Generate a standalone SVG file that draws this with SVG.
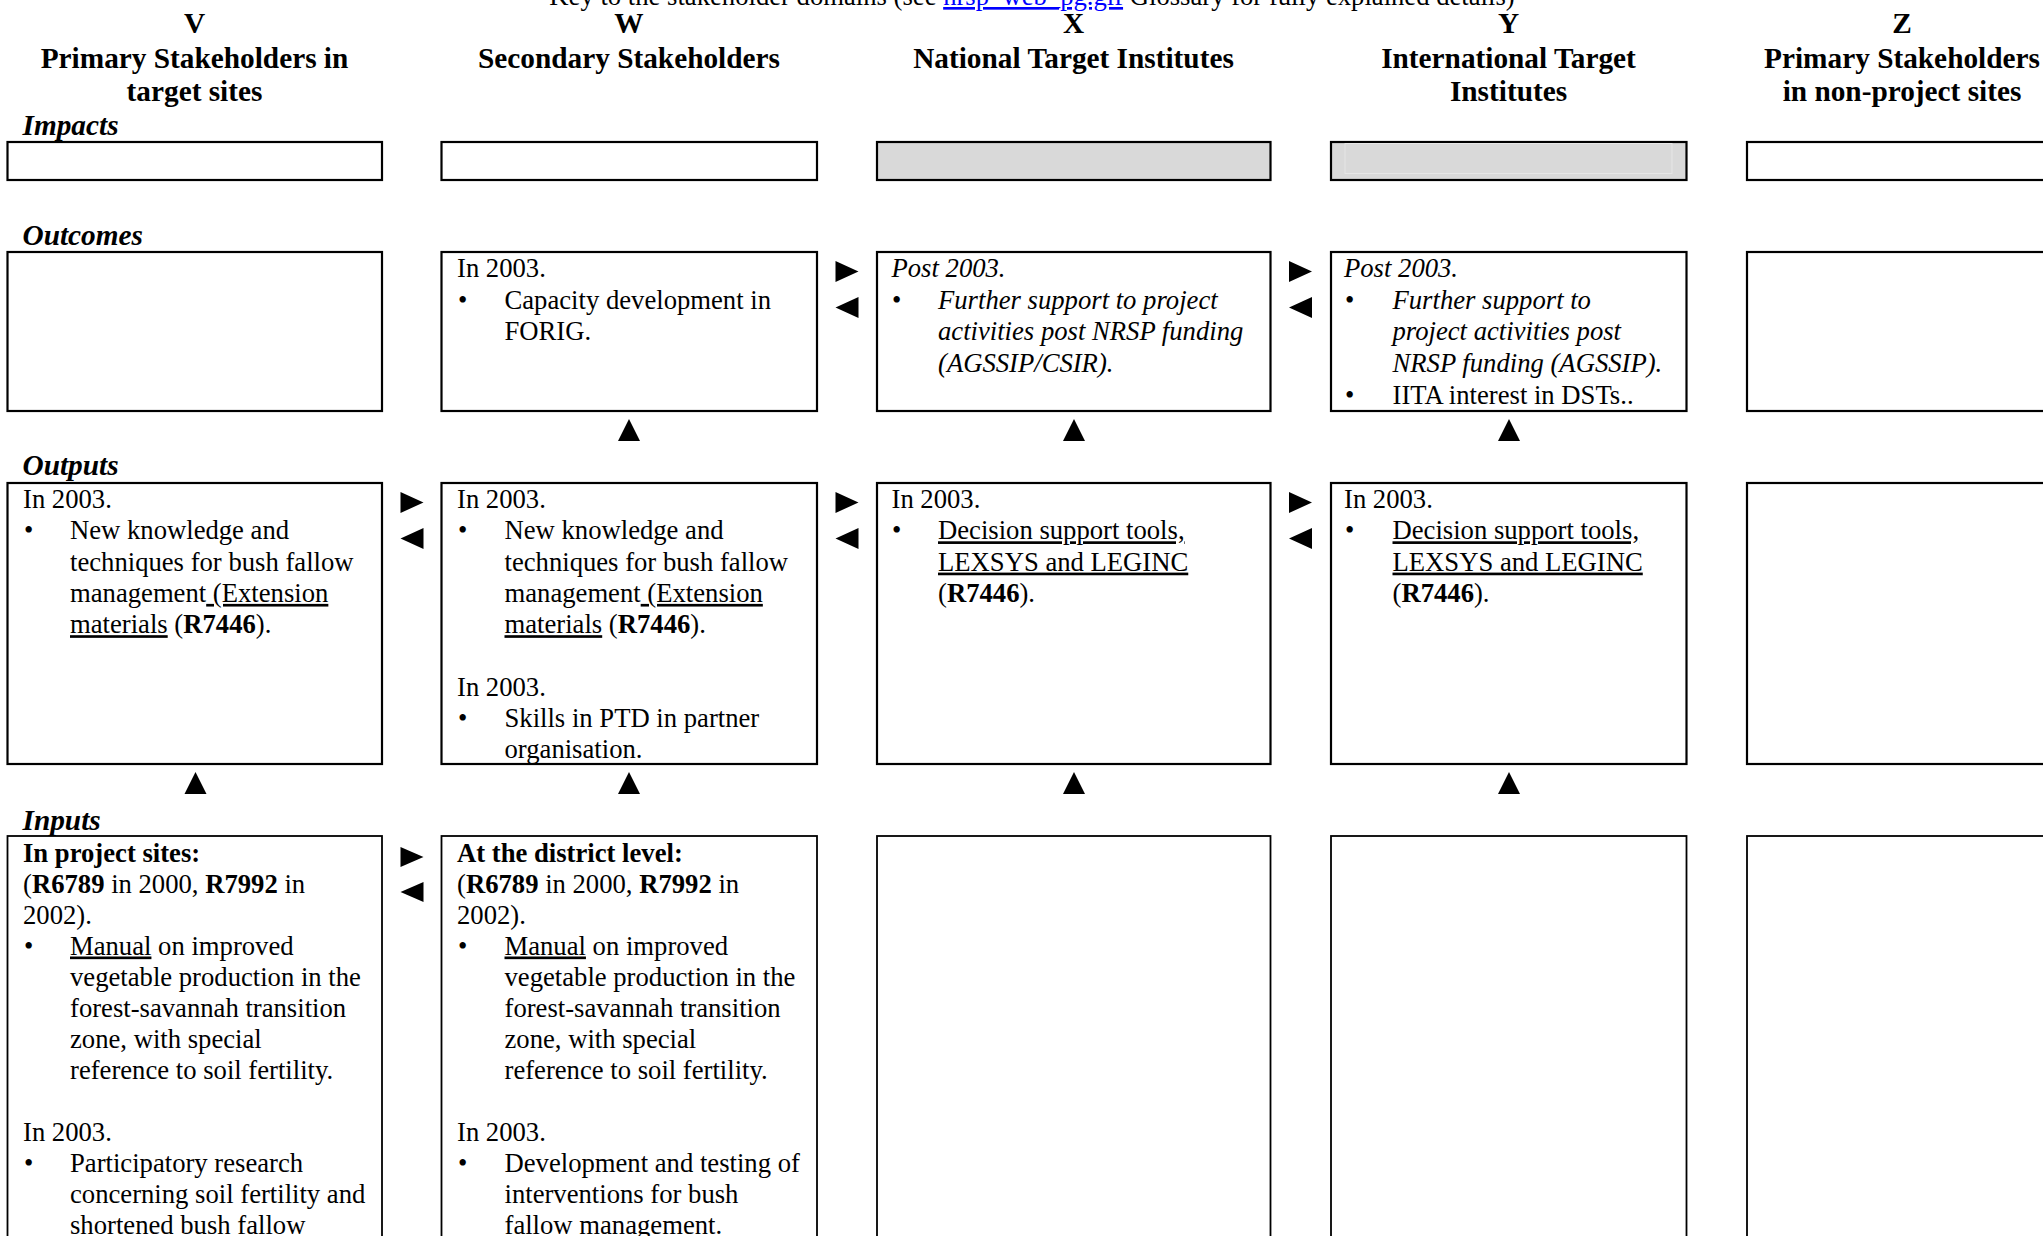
<svg xmlns="http://www.w3.org/2000/svg" width="2043" height="1236" viewBox="0 0 2043 1236">
<style>
.box{fill:#fff;stroke:#000;stroke-width:2.2}
.inp{fill:#fff;stroke:#000;stroke-width:1.8}
.grey{fill:#d9d9d9}
.hdr{font-family:"Liberation Serif","Times New Roman",serif;font-weight:bold;font-size:29.3px;text-anchor:middle;fill:#000}
.row{font-family:"Liberation Serif","Times New Roman",serif;font-weight:bold;font-style:italic;font-size:29.3px;fill:#000}
.t{font-family:"Liberation Serif","Times New Roman",serif;font-size:26.67px;fill:#000}
.b{font-weight:bold}
.i{font-style:italic}
.u{text-decoration:underline}
.arr{fill:#000}
</style>
<text class="t" x="1032" y="5" text-anchor="middle">Key to the stakeholder domains (see <tspan fill="#0000ff" class="u">nrsp_web_pg.gif</tspan> Glossary for fully explained details)</text>
<g id="headers">
<text class="hdr" x="194.5" y="33">V</text>
<text class="hdr" x="194.5" y="68">Primary Stakeholders in</text>
<text class="hdr" x="194.5" y="101">target sites</text>
<text class="hdr" x="629" y="33">W</text>
<text class="hdr" x="629" y="68">Secondary Stakeholders</text>
<text class="hdr" x="1073.5" y="33">X</text>
<text class="hdr" x="1073.5" y="68">National Target Institutes</text>
<text class="hdr" x="1508.5" y="33">Y</text>
<text class="hdr" x="1508.5" y="68">International Target</text>
<text class="hdr" x="1508.5" y="101">Institutes</text>
<text class="hdr" x="1902" y="33">Z</text>
<text class="hdr" x="1902" y="68">Primary Stakeholders</text>
<text class="hdr" x="1902" y="101">in non-project sites</text>
</g>
<g id="rowlabels">
<text class="row" x="22.5" y="134.5">Impacts</text>
<text class="row" x="22.5" y="245">Outcomes</text>
<text class="row" x="22.5" y="475">Outputs</text>
<text class="row" x="22.5" y="830">Inputs</text>
</g>
<g id="impacts">
<g id="impact-V"><rect class="box" x="7.5" y="142" width="374.5" height="38"/></g>
<g id="impact-W"><rect class="box" x="441.5" y="142" width="375.5" height="38"/></g>
<g id="impact-X"><rect class="box grey" x="877" y="142" width="393.5" height="38"/></g>
<g id="impact-Y"><rect class="box grey" x="1331" y="142" width="355.5" height="38"/><rect x="1345" y="143.5" width="327" height="30" fill="none" stroke="#e6e6e6" stroke-width="1"/></g>
<g id="impact-Z"><rect class="box" x="1747" y="142" width="320" height="38"/></g>
</g>
<g id="outcomes">
<g id="outcome-V"><rect class="box" x="7.5" y="252" width="374.5" height="159"/></g>
<g id="outcome-W"><rect class="box" x="441.5" y="252" width="375.5" height="159"/>
<text class="t" x="457" y="277">In 2003.</text>
<text class="t" x="458" y="308.7">•</text>
<text class="t" x="504.5" y="308.7">Capacity development in</text>
<text class="t" x="504.5" y="340.4">FORIG.</text>
</g>
<g id="outcome-X"><rect class="box" x="877" y="252" width="393.5" height="159"/>
<text class="t i" x="891.5" y="277">Post 2003.</text>
<text class="t" x="892" y="308.7">•</text>
<text class="t i" x="938" y="308.7">Further support to project</text>
<text class="t i" x="938" y="340.4">activities post NRSP funding</text>
<text class="t i" x="938" y="372.1">(AGSSIP/CSIR).</text>
</g>
<g id="outcome-Y"><rect class="box" x="1331" y="252" width="355.5" height="159"/>
<text class="t i" x="1344" y="277">Post 2003.</text>
<text class="t" x="1345" y="308.7">•</text>
<text class="t i" x="1392.5" y="308.7">Further support to</text>
<text class="t i" x="1392.5" y="340.4">project activities post</text>
<text class="t i" x="1392.5" y="372.1">NRSP funding (AGSSIP).</text>
<text class="t" x="1345" y="403.8">•</text>
<text class="t" x="1392.5" y="403.8">IITA interest in DSTs..</text>
</g>
<g id="outcome-Z"><rect class="box" x="1747" y="252" width="320" height="159"/></g>
</g>
<g id="outputs">
<g id="output-V"><rect class="box" x="7.5" y="483" width="374.5" height="281"/>
<text class="t" x="23" y="508">In 2003.</text>
<text class="t" x="24" y="539.3">•</text>
<text class="t" x="70" y="539.3">New knowledge and</text>
<text class="t" x="70" y="570.6">techniques for bush fallow</text>
<text class="t" x="70" y="601.9">management<tspan class="u"> (Extension</tspan></text>
<text class="t" x="70" y="633.2"><tspan class="u">materials</tspan> (<tspan class="b">R7446</tspan>).</text>
</g>
<g id="output-W"><rect class="box" x="441.5" y="483" width="375.5" height="281"/>
<text class="t" x="457" y="508">In 2003.</text>
<text class="t" x="458" y="539.3">•</text>
<text class="t" x="504.5" y="539.3">New knowledge and</text>
<text class="t" x="504.5" y="570.6">techniques for bush fallow</text>
<text class="t" x="504.5" y="601.9">management<tspan class="u"> (Extension</tspan></text>
<text class="t" x="504.5" y="633.2"><tspan class="u">materials</tspan> (<tspan class="b">R7446</tspan>).</text>
<text class="t" x="457" y="695.8">In 2003.</text>
<text class="t" x="458" y="727.1">•</text>
<text class="t" x="504.5" y="727.1">Skills in PTD in partner</text>
<text class="t" x="504.5" y="758.4">organisation.</text>
</g>
<g id="output-X"><rect class="box" x="877" y="483" width="393.5" height="281"/>
<text class="t" x="891.5" y="508">In 2003.</text>
<text class="t" x="892" y="539.3">•</text>
<text class="t" x="938" y="539.3"><tspan class="u">Decision support tools,</tspan></text>
<text class="t" x="938" y="570.6"><tspan class="u">LEXSYS and LEGINC</tspan></text>
<text class="t" x="938" y="601.9">(<tspan class="b">R7446</tspan>).</text>
</g>
<g id="output-Y"><rect class="box" x="1331" y="483" width="355.5" height="281"/>
<text class="t" x="1344" y="508">In 2003.</text>
<text class="t" x="1345" y="539.3">•</text>
<text class="t" x="1392.5" y="539.3"><tspan class="u">Decision support tools,</tspan></text>
<text class="t" x="1392.5" y="570.6"><tspan class="u">LEXSYS and LEGINC</tspan></text>
<text class="t" x="1392.5" y="601.9">(<tspan class="b">R7446</tspan>).</text>
</g>
<g id="output-Z"><rect class="box" x="1747" y="483" width="320" height="281"/></g>
</g>
<g id="inputs">
<g id="input-V"><rect class="inp" x="7.5" y="836" width="374.5" height="420"/>
<text class="t b" x="23" y="861.5">In project sites:</text>
<text class="t" x="23" y="892.5">(<tspan class="b">R6789</tspan> in 2000, <tspan class="b">R7992</tspan> in</text>
<text class="t" x="23" y="923.5">2002).</text>
<text class="t" x="24" y="954.5">•</text>
<text class="t" x="70" y="954.5"><tspan class="u">Manual</tspan> on improved</text>
<text class="t" x="70" y="985.5">vegetable production in the</text>
<text class="t" x="70" y="1016.5">forest-savannah transition</text>
<text class="t" x="70" y="1047.5">zone, with special</text>
<text class="t" x="70" y="1078.5">reference to soil fertility.</text>
<text class="t" x="23" y="1141">In 2003.</text>
<text class="t" x="24" y="1172">•</text>
<text class="t" x="70" y="1172">Participatory research</text>
<text class="t" x="70" y="1203">concerning soil fertility and</text>
<text class="t" x="70" y="1234">shortened bush fallow</text>
</g>
<g id="input-W"><rect class="inp" x="441.5" y="836" width="375.5" height="420"/>
<text class="t b" x="457" y="861.5">At the district level:</text>
<text class="t" x="457" y="892.5">(<tspan class="b">R6789</tspan> in 2000, <tspan class="b">R7992</tspan> in</text>
<text class="t" x="457" y="923.5">2002).</text>
<text class="t" x="458" y="954.5">•</text>
<text class="t" x="504.5" y="954.5"><tspan class="u">Manual</tspan> on improved</text>
<text class="t" x="504.5" y="985.5">vegetable production in the</text>
<text class="t" x="504.5" y="1016.5">forest-savannah transition</text>
<text class="t" x="504.5" y="1047.5">zone, with special</text>
<text class="t" x="504.5" y="1078.5">reference to soil fertility.</text>
<text class="t" x="457" y="1141">In 2003.</text>
<text class="t" x="458" y="1172">•</text>
<text class="t" x="504.5" y="1172">Development and testing of</text>
<text class="t" x="504.5" y="1203">interventions for bush</text>
<text class="t" x="504.5" y="1234">fallow management.</text>
</g>
<g id="input-X"><rect class="inp" x="877" y="836" width="393.5" height="420"/></g>
<g id="input-Y"><rect class="inp" x="1331" y="836" width="355.5" height="420"/></g>
<g id="input-Z"><rect class="inp" x="1747" y="836" width="320" height="420"/></g>
</g>
<g id="connectors" class="arr">
<polygon points="835.5,261 858.5,271.5 835.5,282"/>
<polygon points="858.5,297 835.5,307.5 858.5,318"/>
<polygon points="1289,261 1312,271.5 1289,282"/>
<polygon points="1312,297 1289,307.5 1312,318"/>
<polygon points="400.5,492 423.5,502.5 400.5,513"/>
<polygon points="423.5,528 400.5,538.5 423.5,549"/>
<polygon points="835.5,492 858.5,502.5 835.5,513"/>
<polygon points="858.5,528 835.5,538.5 858.5,549"/>
<polygon points="1289,492 1312,502.5 1289,513"/>
<polygon points="1312,528 1289,538.5 1312,549"/>
<polygon points="400.5,847 423.5,857 400.5,867"/>
<polygon points="423.5,882 400.5,892 423.5,902"/>
<polygon points="629,419 640,441 618,441"/>
<polygon points="1074,419 1085,441 1063,441"/>
<polygon points="1509,419 1520,441 1498,441"/>
<polygon points="195.5,772 206.5,794 184.5,794"/>
<polygon points="629,772 640,794 618,794"/>
<polygon points="1074,772 1085,794 1063,794"/>
<polygon points="1509,772 1520,794 1498,794"/>
</g>
</svg>
